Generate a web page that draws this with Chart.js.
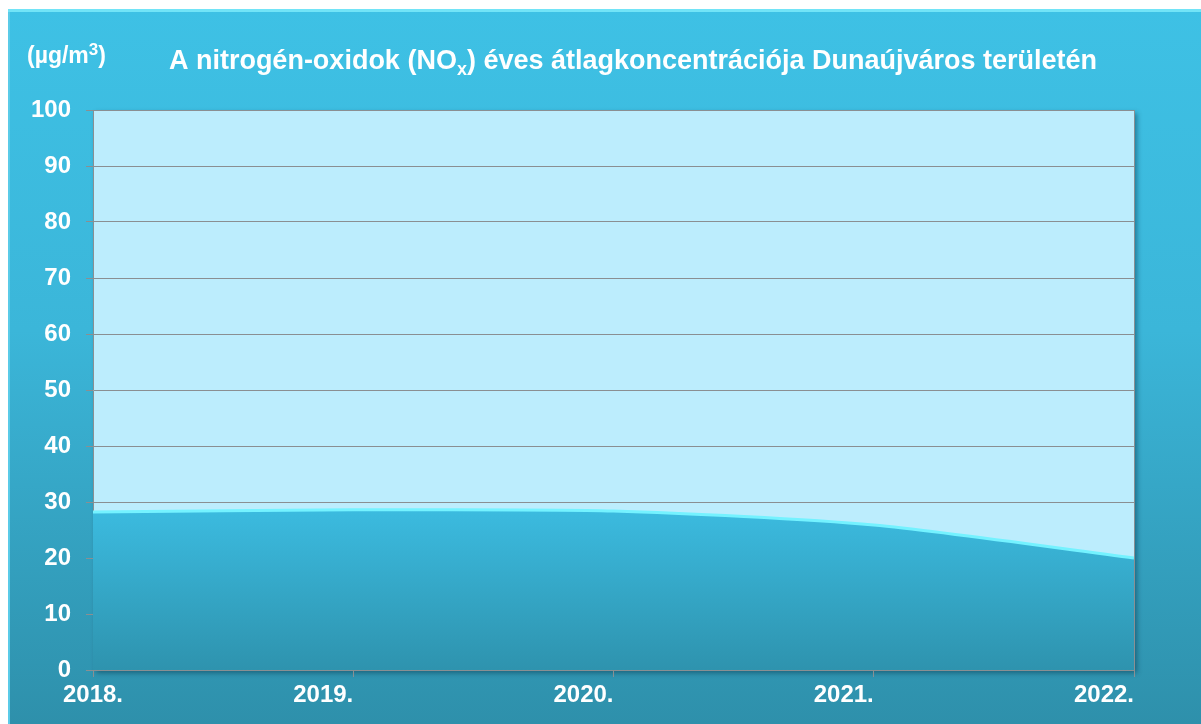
<!DOCTYPE html>
<html>
<head>
<meta charset="utf-8">
<script src="https://cdn.jsdelivr.net/npm/chart.js@4.4.1/dist/chart.umd.min.js"></script>
<style>
  html, body { margin: 0; padding: 0; background: #fff; }
  body { width: 1201px; height: 724px; overflow: hidden; position: relative; }
  #panel {
    position: absolute; left: 8px; top: 9px; width: 1193px; height: 715px;
    background: linear-gradient(to bottom, #3ec1e5 0%, #3bb6d9 45%, #2e90ab 100%);
    box-shadow: inset 0 3px 0 #72e4f7, inset 2px 0 0 #5bcbe8;
  }
  canvas { display: block; }
</style>
</head>
<body>
<div id="panel"><canvas id="chart" width="1193" height="715"></canvas></div>
<script>
const years = ['2018.', '2019.', '2020.', '2021.', '2022.'];
const noxValues = [28.2, 28.6, 28.4, 25.9, 20.0];
const yTicks = [0, 10, 20, 30, 40, 50, 60, 70, 80, 90, 100];
const titleParts = ['A nitrogén-oxidok (NO', 'x', ') éves átlagkoncentrációja Dunaújváros területén'];
const unitParts = ['(µg/m', '3', ')'];

const FONT = '"Liberation Sans", Arial, sans-serif';
const GRID = '#8a8f92';

// draws a run of [text, font, dy] pieces starting at x
function drawRun(ctx, pieces, x, y) {
    pieces.forEach(([t, f, dy]) => {
        ctx.font = f;
        ctx.fillText(t, x, y + dy);
        x += ctx.measureText(t).width;
    });
}
function runWidth(ctx, pieces) {
    return pieces.reduce((s, [t, f]) => { ctx.font = f; return s + ctx.measureText(t).width; }, 0);
}

// plot background, frame and title texts
const decor = {
    id: 'decor',
    beforeDraw(chart) {
        const { ctx, chartArea: a } = chart;
        ctx.save();
        ctx.shadowColor = 'rgba(0,40,60,0.45)';
        ctx.shadowBlur = 5;
        ctx.shadowOffsetX = 3;
        ctx.shadowOffsetY = 3;
        ctx.fillStyle = '#bcedfd';
        ctx.fillRect(a.left, a.top, a.right - a.left, a.bottom - a.top);
        ctx.restore();
    },
    afterDraw(chart) {
        const { ctx, chartArea: a, scales } = chart;
        ctx.save();
        ctx.strokeStyle = GRID;
        ctx.lineWidth = 1;
        ctx.beginPath();
        ctx.moveTo(a.right + 0.5, a.top);
        ctx.lineTo(a.right + 0.5, a.bottom);
        ctx.stroke();

        ctx.fillStyle = '#ffffff';
        ctx.textBaseline = 'alphabetic';
        ctx.textAlign = 'left';

        // title with subscript x
        const big = 'bold 27px ' + FONT;
        const small = 'bold 18px ' + FONT;
        const title = [[titleParts[0], big, 0], [titleParts[1], small, 6], [titleParts[2], big, 0]];
        drawRun(ctx, title, 625 - runWidth(ctx, title) / 2, 60);

        // unit label with superscript 3
        const uf = 'bold 23px ' + FONT;
        drawRun(ctx, [[unitParts[0], uf, 0], [unitParts[1], 'bold 17px ' + FONT, -8], [unitParts[2], uf, 0]], 19, 54);

        // x labels: first centred, others end at their tick
        const xs = scales.x;
        ctx.font = 'bold 24px ' + FONT;
        years.forEach((lab, i) => {
            const px = xs.getPixelForValue(i);
            ctx.textAlign = i === 0 ? 'center' : 'right';
            ctx.fillText(lab, px, 693);
        });
        ctx.restore();
    }
};

const canvas = document.getElementById('chart');
new Chart(canvas, {
    type: 'line',
    data: {
        labels: years,
        datasets: [{
            data: noxValues,
            fill: 'origin',
            borderColor: '#74f2ff',
            borderWidth: 3,
            pointRadius: 0,
            tension: 0.25,
            backgroundColor(ctx) {
                const a = ctx.chart.chartArea;
                if (!a) return '#3bb9dd';
                const g = ctx.chart.ctx.createLinearGradient(0, a.top, 0, a.bottom);
                g.addColorStop(0, '#48d0f5');
                g.addColorStop(0.7, '#3cbde2');
                g.addColorStop(1, '#2e93ae');
                return g;
            },
        }],
    },
    options: {
        responsive: false,
        animation: false,
        events: [],
        layout: { padding: { top: 101, right: 67, left: 0, bottom: 0 } },
        plugins: { legend: { display: false }, tooltip: { enabled: false }, title: { display: false } },
        scales: {
            x: {
                type: 'category',
                offset: false,
                afterFit(s) { s.height = 54; },
                grid: { drawOnChartArea: false, drawTicks: true, tickLength: 7, color: GRID },
                border: { color: GRID, width: 1 },
                ticks: { display: false },
            },
            y: {
                min: 0,
                max: 100,
                afterFit(s) { s.width = 85; },
                afterBuildTicks(s) { s.ticks = yTicks.map(v => ({ value: v })); },
                grid: { color: GRID, tickLength: 7, lineWidth: 1 },
                border: { color: GRID, width: 1 },
                ticks: {
                    color: '#ffffff',
                    padding: 15,
                    font: { family: FONT, size: 24, weight: 'bold' },
                },
            },
        },
    },
    plugins: [decor],
});
</script>
</body>
</html>
